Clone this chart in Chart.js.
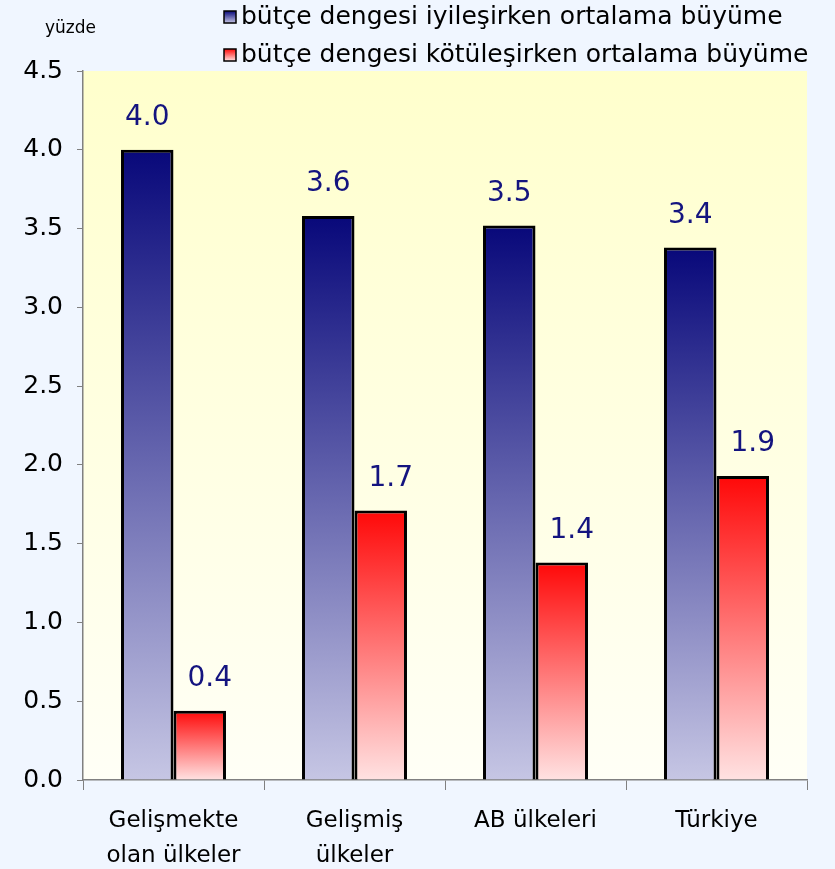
<!DOCTYPE html>
<html><head><meta charset="utf-8">
<script src="https://cdn.jsdelivr.net/npm/chart.js@4/dist/chart.umd.min.js"></script>
<style>html,body{margin:0;padding:0;background:#F0F6FF;overflow:hidden}#wrap{width:835px;height:869px}</style>
</head><body><div id="wrap"><canvas id="c" width="835" height="869"></canvas></div>
<script>
const categories = [["Gelişmekte", "olan ülkeler"], ["Gelişmiş", "ülkeler"], ["AB ülkeleri"], ["Türkiye"]];
const seriesNames = ["bütçe dengesi iyileşirken ortalama büyüme", "bütçe dengesi kötüleşirken ortalama büyüme"];
const improving = [4.0, 3.58, 3.52, 3.38];
const worsening = [0.44, 1.71, 1.38, 1.93];
const yTickValues = [0, 0.5, 1.0, 1.5, 2.0, 2.5, 3.0, 3.5, 4.0, 4.5];
const unitLabel = "yüzde";

const blueStops = ["#08087A", "#C6C6E4"];
const redStops = ["#FF0808", "#FFE2E2"];

function barGradient(stops) {
  return function (ctx) {
    const chart = ctx.chart;
    if (!chart.chartArea || ctx.type !== 'data') return stops[0];
    const ys = chart.scales.y;
    const top = ys.getPixelForValue(ctx.raw);
    const bot = ys.getPixelForValue(0);
    const g = chart.ctx.createLinearGradient(0, top, 0, bot);
    g.addColorStop(0, stops[0]);
    g.addColorStop(1, stops[1]);
    return g;
  };
}

const bgPlugin = {
  id: 'plotBg',
  beforeDraw(chart) {
    const { ctx, chartArea: a } = chart;
    ctx.save();
    const g = ctx.createLinearGradient(0, a.top, 0, a.bottom);
    g.addColorStop(0, '#FFFFCC');
    g.addColorStop(1, '#FFFFF6');
    ctx.fillStyle = g;
    ctx.fillRect(a.left, a.top, a.right - a.left, a.bottom - a.top);
    ctx.restore();
  }
};

const labelPlugin = {
  id: 'valLabels',
  afterDatasetsDraw(chart) {
    const ctx = chart.ctx;
    ctx.save();
    ctx.font = '28px "DejaVu Sans"';
    ctx.fillStyle = '#14147F';
    ctx.textAlign = 'center';
    ctx.textBaseline = 'middle';
    chart.data.datasets.forEach((ds, di) => {
      chart.getDatasetMeta(di).data.forEach((bar, i) => {
        ctx.fillText(ds.data[i].toFixed(1), bar.x + (di === 1 ? 10 : 0), bar.y - 32);
      });
    });
    ctx.restore();
  }
};

const legendPlugin = {
  id: 'customLegend',
  afterDraw(chart) {
    const ctx = chart.ctx;
    ctx.save();
    ctx.font = '17px "DejaVu Sans"';
    ctx.fillStyle = '#000';
    ctx.textAlign = 'left';
    ctx.textBaseline = 'middle';
    ctx.fillText(unitLabel, 45, 29);
    const rows = [17, 55];
    const stopsList = [blueStops, redStops];
    chart.data.datasets.forEach((ds, i) => {
      const y = rows[i];
      const g = ctx.createLinearGradient(0, y - 6, 0, y + 6);
      g.addColorStop(0, stopsList[i][0]);
      g.addColorStop(1, stopsList[i][1]);
      ctx.fillStyle = g;
      ctx.fillRect(224, y - 6, 12, 12);
      ctx.lineWidth = 1.5;
      ctx.strokeStyle = '#000';
      ctx.strokeRect(224, y - 6, 12, 12);
      ctx.fillStyle = '#000';
      ctx.font = '25px "DejaVu Sans"';
      ctx.fillText(ds.label, 241, y);
    });
    ctx.restore();
  }
};

new Chart(document.getElementById('c'), {
  type: 'bar',
  data: {
    labels: categories,
    datasets: [
      { label: seriesNames[0], data: improving, backgroundColor: barGradient(blueStops), borderColor: '#000', borderWidth: 3, borderSkipped: 'bottom', inflateAmount: 0 },
      { label: seriesNames[1], data: worsening, backgroundColor: barGradient(redStops), borderColor: '#000', borderWidth: 3, borderSkipped: 'bottom', inflateAmount: 0 }
    ]
  },
  options: {
    responsive: false,
    animation: false,
    devicePixelRatio: 1,
    layout: { padding: { top: 71, right: 28, left: 0, bottom: 0 } },
    datasets: { bar: { categoryPercentage: 0.58, barPercentage: 1.0 } },
    plugins: { legend: { display: false }, tooltip: { enabled: false } },
    scales: {
      x: {
        grid: { drawOnChartArea: false, tickLength: 10, color: '#808080', offset: true },
        border: { color: '#808080', width: 1.5 },
        ticks: { color: '#000', font: { family: 'DejaVu Sans', size: 23, lineHeight: 1.5 }, padding: 14, maxRotation: 0 },
        afterFit(s) { s.height = 89; }
      },
      y: {
        min: 0, max: 4.5,
        afterBuildTicks(s) { s.ticks = yTickValues.map(v => ({ value: v })); },
        grid: { drawOnChartArea: false, tickLength: 6, color: '#808080' },
        border: { color: '#808080', width: 1.5 },
        ticks: { color: '#000', font: { family: 'DejaVu Sans', size: 25 }, padding: 14, callback: v => Number(v).toFixed(1) },
        afterFit(s) { s.width = 83; }
      }
    }
  },
  plugins: [bgPlugin, labelPlugin, legendPlugin]
});
</script>
</body></html>
